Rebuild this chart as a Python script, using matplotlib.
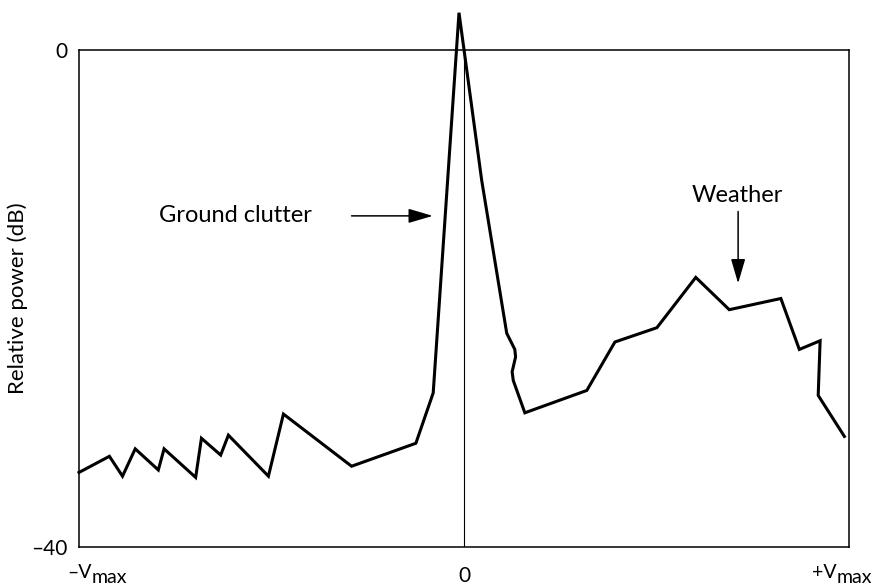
import matplotlib
matplotlib.use("Agg")
import matplotlib.pyplot as plt

plt.rcParams['font.family'] = ['Lato', 'DejaVu Sans']

# Doppler velocity (normalised, -Vmax .. +Vmax)
velocity = [-1.0, -0.921, -0.887, -0.854, -0.794, -0.779, -0.697, -0.682, -0.632,
            -0.612, -0.508, -0.469, -0.292, -0.125, -0.080, -0.013, 0.046, 0.111,
            0.132, 0.134, 0.125, 0.128, 0.158, 0.319, 0.392, 0.501, 0.602, 0.689,
            0.823, 0.871, 0.925, 0.920, 0.988]
# Relative power (dB)
power = [-34.0, -32.7, -34.3, -32.1, -33.8, -32.1, -34.4, -31.25, -32.6,
         -31.0, -34.3, -29.3, -33.5, -31.65, -27.6, 3.0, -10.5, -22.8,
         -24.1, -24.7, -25.9, -26.6, -29.2, -27.4, -23.5, -22.35, -18.3, -20.9,
         -20.0, -24.1, -23.4, -27.8, -31.1]

xtick_vals = [-1, 0, 1]
xtick_main = ['\u2013V', '0', '+V']
xtick_sub = ['max', '', 'max']
ytick_vals = [-40, 0]
ytick_labels = ['\u201340', '0']

fig = plt.figure(figsize=(8.78, 5.85), dpi=100)
ax = fig.add_axes([79/878, 1-547/585, (849-79)/878, (547-50)/585])

ax.plot(velocity, power, color='black', lw=2.2, clip_on=False,
        solid_joinstyle='miter', zorder=3)
ax.axvline(0, color='black', lw=0.8, zorder=2)

ax.set_xlim(-1, 1)
ax.set_ylim(-40, 0)
ax.set_xticks(xtick_vals)
ax.set_xticklabels(['', '0', ''])
ax.set_yticks(ytick_vals)
ax.set_yticklabels(ytick_labels)
ax.tick_params(axis='both', length=0, labelsize=15)
ax.tick_params(axis='x', pad=14)
ax.tick_params(axis='y', pad=8)
for sp in ax.spines.values():
    sp.set_linewidth(1.1)
    sp.set_color('black')

# composite +/-Vmax tick labels (subscript at full size, lowered)
xtr = ax.get_xaxis_transform()
offsets = {-1: 9.4, 1: -8.6}
for v, m, s in zip(xtick_vals, xtick_main, xtick_sub):
    if not s:
        continue
    dx = offsets[v]
    ax.annotate(m, xy=(v, 0), xycoords=xtr, xytext=(dx, -22.5),
                textcoords='offset points', ha='right', va='baseline', fontsize=14,
                annotation_clip=False)
    ax.annotate(s, xy=(v, 0), xycoords=xtr, xytext=(dx, -26),
                textcoords='offset points', ha='left', va='baseline', fontsize=14,
                annotation_clip=False)

ax.set_ylabel('Relative power (dB)', fontsize=16)
ax.yaxis.set_label_coords(-0.066, 0.5)

arrow_kw = dict(arrowstyle='-|>,head_length=0.75,head_width=0.22',
                color='black', lw=1.1, mutation_scale=20, shrinkA=0, shrinkB=0)
ax.annotate('', xy=(-0.081, -13.35), xytext=(-0.292, -13.35), arrowprops=arrow_kw)
ax.text(-0.5935, -13.35, 'Ground clutter', fontsize=17, ha='center', va='center')
ax.annotate('', xy=(0.712, -18.78), xytext=(0.712, -13.0), arrowprops=arrow_kw)
ax.text(0.709, -11.7, 'Weather', fontsize=17, ha='center', va='center')

fig.savefig('out.png', dpi=100)
